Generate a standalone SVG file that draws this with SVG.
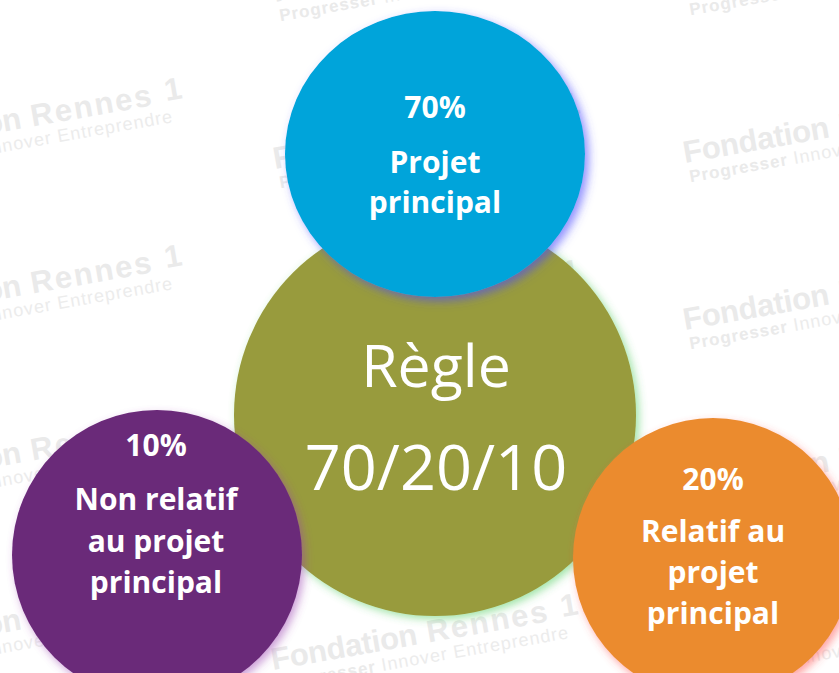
<svg xmlns="http://www.w3.org/2000/svg" xmlns:xlink="http://www.w3.org/1999/xlink" width="839" height="673" viewBox="0 0 839 673">
<style>
.wm1{font-family:"Liberation Sans",Arial,sans-serif;font-weight:bold;font-size:31px;fill:#eaeaea}
.wm2b{font-family:"Liberation Sans",Arial,sans-serif;font-weight:bold;font-size:17px;fill:#eaeaea}
.wm2{font-family:"Liberation Sans",Arial,sans-serif;font-size:18px;fill:#ececec;letter-spacing:1px}
.lbl{font-family:"Open Sans","Liberation Sans",sans-serif;font-weight:bold;font-size:30px;fill:#ffffff;text-anchor:middle}
.big{font-family:"Open Sans","Liberation Sans",sans-serif;font-size:59px;fill:#ffffff;text-anchor:middle}
</style>
<defs>
<g id="wm" transform="rotate(-10)">
<text class="wm1" x="0" y="0" textLength="148">Fondation</text>
<text class="wm1" x="158" y="0" textLength="122">Rennes</text>
<text class="wm1" x="294" y="-2">1</text>
<text class="wm2" x="2" y="20"><tspan class="wm2b">Progresser</tspan> Innover Entreprendre</text>
</g>
<filter id="gBlue" x="-20%" y="-20%" width="140%" height="140%">
<feGaussianBlur in="SourceAlpha" stdDeviation="5"/><feOffset dx="4" dy="4" result="b"/>
<feFlood flood-color="#4848ff" flood-opacity="0.6"/><feComposite in2="b" operator="in"/>
<feMerge><feMergeNode/><feMergeNode in="SourceGraphic"/></feMerge>
</filter>
<filter id="gGreen" x="-20%" y="-20%" width="140%" height="140%">
<feGaussianBlur in="SourceAlpha" stdDeviation="4"/><feOffset dx="3" dy="3" result="b"/>
<feFlood flood-color="#40c850" flood-opacity="0.5"/><feComposite in2="b" operator="in"/>
<feMerge><feMergeNode/><feMergeNode in="SourceGraphic"/></feMerge>
</filter>
<filter id="gPurple" x="-20%" y="-20%" width="140%" height="140%">
<feGaussianBlur in="SourceAlpha" stdDeviation="4"/><feOffset dx="3" dy="4" result="b"/>
<feFlood flood-color="#9a40b0" flood-opacity="0.5"/><feComposite in2="b" operator="in"/>
<feMerge><feMergeNode/><feMergeNode in="SourceGraphic"/></feMerge>
</filter>
<filter id="gOrange" x="-20%" y="-20%" width="140%" height="140%">
<feGaussianBlur in="SourceAlpha" stdDeviation="4"/><feOffset dx="3" dy="4" result="b"/>
<feFlood flood-color="#ff4848" flood-opacity="0.5"/><feComposite in2="b" operator="in"/>
<feMerge><feMergeNode/><feMergeNode in="SourceGraphic"/></feMerge>
</filter>
</defs>
<rect width="839" height="673" fill="#ffffff"/>
<g id="watermarks">
<use xlink:href="#wm" x="-123" y="-13"/>
<use xlink:href="#wm" x="-123" y="154"/>
<use xlink:href="#wm" x="-123" y="321"/>
<use xlink:href="#wm" x="-123" y="488"/>
<use xlink:href="#wm" x="-123" y="655"/>
<use xlink:href="#wm" x="275" y="2"/>
<use xlink:href="#wm" x="275" y="169"/>
<use xlink:href="#wm" x="275" y="336"/>
<use xlink:href="#wm" x="275" y="503"/>
<use xlink:href="#wm" x="273" y="670"/>
<use xlink:href="#wm" x="685" y="-4"/>
<use xlink:href="#wm" x="685" y="163"/>
<use xlink:href="#wm" x="685" y="330"/>
<use xlink:href="#wm" x="685" y="497"/>
<use xlink:href="#wm" x="685" y="664"/>
</g>
<g id="connectors"/>
<g id="regle">
<circle cx="435" cy="415" r="201" fill="#989b3c" filter="url(#gGreen)"/>
<text class="big" x="436" y="387">Règle</text>
<text class="big" x="436" y="490" style="font-size:63px">70/20/10</text>
</g>
<g id="projet-principal">
<ellipse cx="435" cy="154" rx="150" ry="143" fill="#02a4da" filter="url(#gBlue)"/>
<text class="lbl" x="435" y="118">70%</text>
<text class="lbl" x="435" y="173">Projet</text>
<text class="lbl" x="435" y="213">principal</text>
</g>
<g id="non-relatif">
<circle cx="157" cy="555" r="145" fill="#6b2a79" filter="url(#gPurple)"/>
<text class="lbl" x="156" y="456">10%</text>
<text class="lbl" x="156" y="510">Non relatif</text>
<text class="lbl" x="156" y="552">au projet</text>
<text class="lbl" x="156" y="593">principal</text>
</g>
<g id="relatif">
<circle cx="713" cy="558" r="140" fill="#eb8b2f" filter="url(#gOrange)"/>
<text class="lbl" x="713" y="490">20%</text>
<text class="lbl" x="713" y="542">Relatif au</text>
<text class="lbl" x="713" y="583">projet</text>
<text class="lbl" x="713" y="624">principal</text>
</g>
</svg>
